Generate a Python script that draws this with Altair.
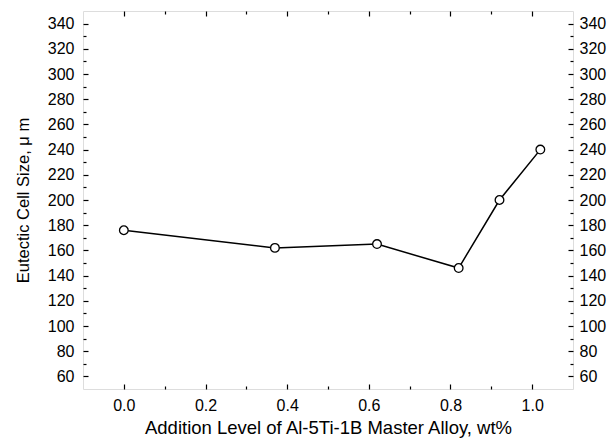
import altair as alt
import pandas as pd

# data
x_vals = [0.0, 0.37, 0.62, 0.82, 0.92, 1.02]
y_vals = [176, 162, 165, 146, 200, 240]

x_major = [0.0, 0.2, 0.4, 0.6, 0.8, 1.0]
x_minor = [0.1, 0.3, 0.5, 0.7, 0.9]
y_major = [60, 80, 100, 120, 140, 160, 180, 200, 220, 240, 260, 280, 300, 320, 340]
y_minor = [70, 90, 110, 130, 150, 170, 190, 210, 230, 250, 270, 290, 310, 330]

df = pd.DataFrame({"x": x_vals, "y": y_vals})

FONT = "Liberation Sans"
xs = alt.Scale(domain=[-0.1, 1.1], nice=False, zero=False)
ys = alt.Scale(domain=[50, 350], nice=False, zero=False)

MAJ = 5
MIN = 3


def ax(orient, values, size, labels, fmt=None, title="", title_size=15,
       title_pad=4, label_pad=9):
    kw = dict(
        orient=orient, values=values, tickSize=size, offset=-size,
        labels=labels, domain=False, grid=False, tickColor="black",
        tickWidth=1.2, labelFont=FONT, labelFontSize=16, labelColor="black",
        labelPadding=label_pad, title=title,
        titleFont=FONT, titleFontSize=title_size, titleColor="black",
        titleFontWeight="normal", titlePadding=title_pad,
    )
    if fmt:
        kw["format"] = fmt
    return alt.Axis(**kw)


base = alt.Chart(df)

main_line = base.mark_line(color="black", strokeWidth=1.5).encode(
    x=alt.X("x:Q", scale=xs,
            axis=ax("bottom", x_major, MAJ, True, ".1f",
                    "Addition Level of Al-5Ti-1B Master Alloy, wt%", 18.5, 5, 8)),
    y=alt.Y("y:Q", scale=ys,
            axis=ax("left", y_major, MAJ, True, "d", "Eutectic Cell Size, μ m", 16.5, 16)),
)

pts = base.mark_point(shape="circle", size=75, filled=True, fill="white",
                      stroke="black", strokeWidth=1.3, opacity=1).encode(
    x=alt.X("x:Q", scale=xs, axis=None),
    y=alt.Y("y:Q", scale=ys, axis=None),
)

minor_bl = base.mark_point(opacity=0).encode(
    x=alt.X("x:Q", scale=xs, axis=ax("bottom", x_minor, MIN, False)),
    y=alt.Y("y:Q", scale=ys, axis=ax("left", y_minor, MIN, False)),
)

major_tr = base.mark_point(opacity=0).encode(
    x=alt.X("x:Q", scale=xs, axis=ax("top", x_major, MAJ, False)),
    y=alt.Y("y:Q", scale=ys, axis=ax("right", y_major, MAJ, True, "d", label_pad=6)),
)

minor_tr = base.mark_point(opacity=0).encode(
    x=alt.X("x:Q", scale=xs, axis=ax("top", x_minor, MIN, False)),
    y=alt.Y("y:Q", scale=ys, axis=ax("right", y_minor, MIN, False)),
)

chart = (
    alt.layer(main_line, minor_bl, major_tr, minor_tr, pts)
    .resolve_axis(x="independent", y="independent")
    .properties(
        width=490,
        height=378,
        autosize=alt.AutoSizeParams(type="none"),
        padding={"left": 75, "top": 3, "right": 34, "bottom": 49},
    )
    .configure_view(stroke="black", strokeWidth=1.8)
    .configure(background="white")
)

chart.save("out.html", embed_options={"renderer": "svg", "actions": False})
